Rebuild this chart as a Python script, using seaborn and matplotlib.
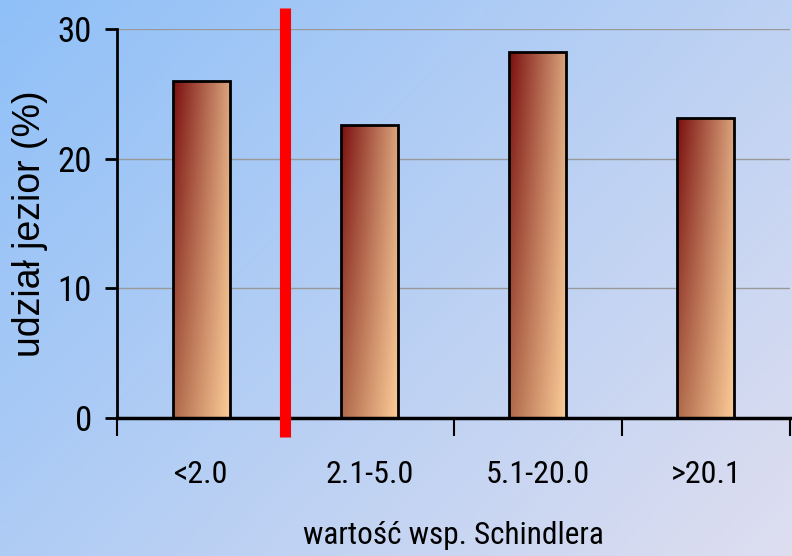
import numpy as np
import pandas as pd
import matplotlib
matplotlib.use("Agg")
import matplotlib.pyplot as plt
import seaborn as sns

categories = ["<2.0", "2.1-5.0", "5.1-20.0", ">20.1"]
shares = [26.0, 22.6, 28.2, 23.1]
y_ticks = [0, 10, 20, 30]

sns.set_theme(style="white")
plt.rcParams["font.family"] = ["Roboto Condensed", "DejaVu Sans"]
for key in ("text.color", "axes.labelcolor", "xtick.color", "ytick.color"):
    plt.rcParams[key] = "black"

fig = plt.figure(figsize=(7.92, 5.56), dpi=100)

# diagonal background gradient: sky blue (top-left) to lavender (bottom-right)
bg = fig.add_axes([0, 0, 1, 1], zorder=-10)
bg.set_axis_off()
gx, gy = np.meshgrid(np.linspace(0, 1, 200), np.linspace(0, 1, 200))
t = np.clip((gx * 0.6 + gy * 0.4), 0, 1)
c0 = np.array([143, 192, 248]) / 255
c1 = np.array([222, 222, 240]) / 255
img = c0[None, None, :] * (1 - t[..., None]) + c1[None, None, :] * t[..., None]
bg.imshow(img, extent=[0, 1, 0, 1], aspect="auto", origin="upper")

ax = fig.add_axes([117 / 792, 1 - 418 / 556, (790 - 117) / 792, (418 - 29) / 556])
ax.patch.set_alpha(0)

df = pd.DataFrame({"kat": categories, "udzial": shares})
sns.barplot(data=df, x="kat", y="udzial", ax=ax, width=0.34, color="#d9a07a",
            edgecolor="black", linewidth=2, zorder=3)

# gradient fill for each bar: dark red top-left to peach bottom-right
tl = np.array([122, 14, 14]) / 255
tr = np.array([218, 165, 125]) / 255
bl = np.array([175, 105, 75]) / 255
br = np.array([253, 205, 153]) / 255
u, v = np.meshgrid(np.linspace(0, 1, 100), np.linspace(0, 1, 200))
uu = u[..., None]
vv = v[..., None]
grad = (tl * (1 - uu) * (1 - vv) + tr * uu * (1 - vv)
        + bl * (1 - uu) * vv + br * uu * vv)
for p in ax.patches:
    x0, y0 = p.get_x(), p.get_y()
    w, h = p.get_width(), p.get_height()
    im = ax.imshow(grad, extent=[x0, x0 + w, y0, y0 + h], aspect="auto",
                   origin="upper", zorder=3.5)
    im.set_clip_path(p)
    p.set_facecolor("none")
    p.set_zorder(4)
ax.set_xlim(-0.5, 3.5)
ax.set_ylim(0, 30)

# horizontal grid lines
for yv in y_ticks[1:]:
    ax.axhline(yv, color="#999999", lw=1, zorder=1)

sns.despine(ax=ax, top=True, right=True)
ax.spines["left"].set_color("black")
ax.spines["bottom"].set_color("black")
ax.spines["left"].set_linewidth(2)
ax.spines["bottom"].set_linewidth(2.5)
ax.spines["left"].set_zorder(5)
ax.spines["bottom"].set_zorder(5)

ax.set_yticks(y_ticks)
ax.set_yticklabels([str(v) for v in y_ticks], fontsize=25)
ax.tick_params(axis="y", direction="out", length=9, width=2, pad=9, left=True)

ax.set_xticks(np.arange(len(categories) + 1) - 0.5)
ax.set_xticklabels([])
ax.set_xticks(np.arange(len(categories)), minor=True)
ax.set_xticklabels(categories, minor=True, fontsize=23)
ax.tick_params(axis="x", which="major", direction="out", length=13, width=1.5,
               bottom=True)
ax.tick_params(axis="x", which="minor", length=0, pad=30)

ax.set_xlabel("wartość wsp. Schindlera", fontsize=22.5, labelpad=23)
ax.set_ylabel("udział jezior (%)", fontsize=27, labelpad=7,
              family=["Liberation Sans", "DejaVu Sans"])

# red separator between the first and the remaining classes
ax.plot([0.5, 0.5], [-1.45, 31.6], color="#ff0000", lw=8, solid_capstyle="butt",
        clip_on=False, zorder=6)

fig.savefig("out.png", dpi=100)
